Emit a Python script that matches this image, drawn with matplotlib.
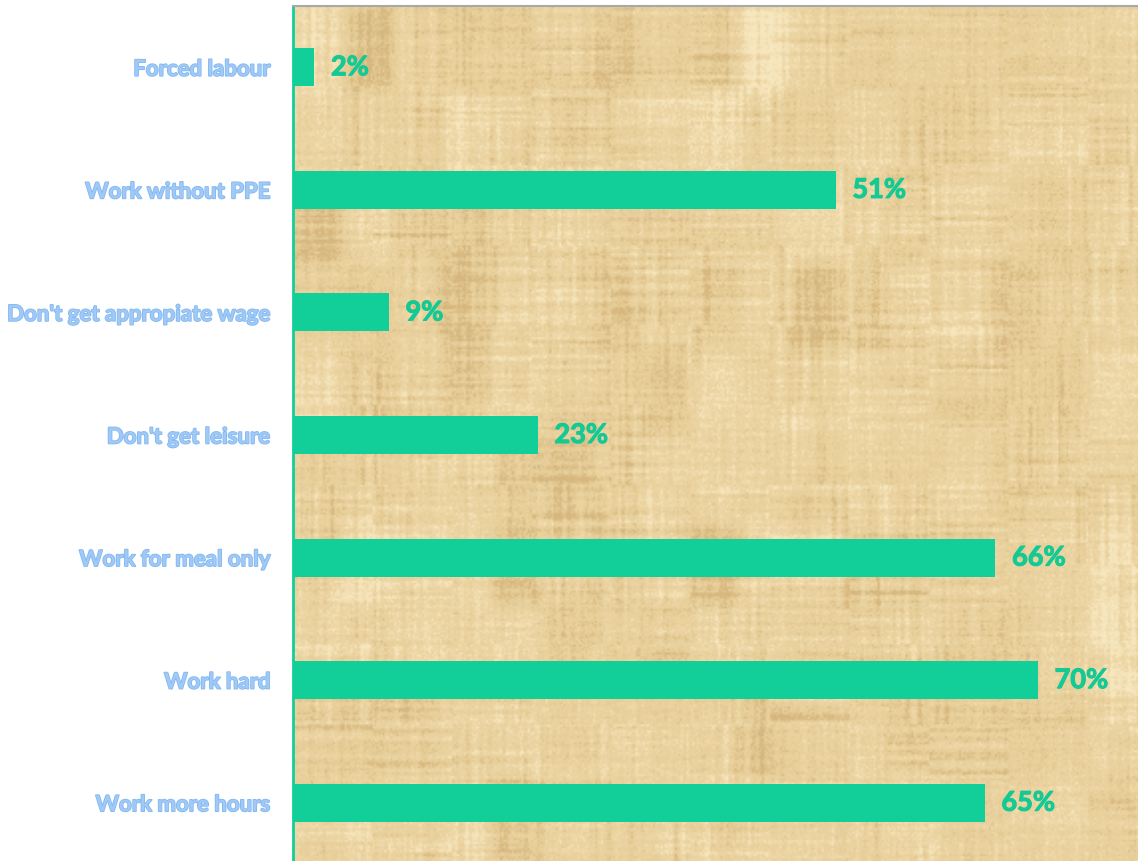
import numpy as np
import matplotlib
matplotlib.use("Agg")
import matplotlib.pyplot as plt
import matplotlib.patheffects as pe
from matplotlib.colors import LinearSegmentedColormap

# survey answers, top to bottom
categories = [
    "Forced labour",
    "Work without PPE",
    "Don't get appropiate wage",
    "Don't get leisure",
    "Work for meal only",
    "Work hard",
    "Work more hours",
]
shares = [2, 51, 9, 23, 66, 70, 65]

BAR_GREEN = "#12CF99"
LABEL_GREEN = "#14C994"
LABEL_BLUE = "#9FCAF7"
X_MAX = 79.4


def smooth(a, k, axis):
    kern = np.ones(k) / k
    return np.apply_along_axis(lambda v: np.convolve(v, kern, mode="same"), axis, a)


def papyrus(h=430, w=425, seed=3):
    # woven-fibre look: soft patches with horizontal and vertical strands
    rng = np.random.default_rng(seed)
    blocks = np.kron(rng.normal(size=(h // 43 + 1, w // 25 + 1)), np.ones((43, 25)))[:h, :w]
    blocks = smooth(smooth(blocks, 9, 0), 9, 1)
    amp_r = np.kron(rng.uniform(0.3, 1, size=(h // 30 + 1, w // 60 + 1)), np.ones((30, 60)))[:h, :w]
    amp_c = np.kron(rng.uniform(0.3, 1, size=(h // 60 + 1, w // 30 + 1)), np.ones((60, 30)))[:h, :w]
    rows = smooth(rng.normal(size=(h, w // 40 + 1)), 2, 0)
    rows = np.repeat(rows, 40, axis=1)[:, :w]
    cols = smooth(rng.normal(size=(h // 40 + 1, w)), 2, 1)
    cols = np.repeat(cols, 40, axis=0)[:h, :]
    fine = rng.normal(size=(h, w))
    tex = 0.35 * blocks + 0.5 * rows * amp_r + 0.5 * cols * amp_c + 0.3 * fine
    tex = (tex - tex.mean()) / tex.std()
    return np.clip(tex, -2.5, 2.5)


paper = LinearSegmentedColormap.from_list(
    "paper", ["#D6B77E", "#E6CD98", "#EDD6A5", "#F7E7BF"])

fig = plt.figure(figsize=(11.38, 8.62), dpi=100)
ax = fig.add_axes([293 / 1138, -3 / 862, 1 - 293 / 1138, 1 - 4 / 862])

y = np.arange(len(categories))
ax.imshow(papyrus(), cmap=paper, extent=[0, X_MAX, len(categories) - 0.5, -0.5],
          aspect="auto", interpolation="bilinear", zorder=0)
ax.barh(y, shares, height=0.31, color=BAR_GREEN, zorder=2)

for yi, v in zip(y, shares):
    ax.annotate(f"{v}%", (v, yi), xytext=(12, 0), textcoords="offset points",
                ha="left", va="center", fontsize=19.5, fontweight="bold",
                color=LABEL_GREEN, family="Lato", zorder=3,
                path_effects=[pe.withStroke(linewidth=0.8, foreground=LABEL_GREEN)])

ax.set_xlim(0, X_MAX)
ax.set_ylim(len(categories) - 0.5, -0.5)
ax.set_xticks([])
ax.set_yticks(y)
ax.set_yticklabels(categories, fontsize=16, fontweight="bold", family="Lato",
                   color=LABEL_BLUE)
for t in ax.get_yticklabels():
    t.set_path_effects([pe.withStroke(linewidth=1.2, foreground="#84B7EF")])
ax.tick_params(axis="y", length=0, pad=16)

for side in ["right", "bottom"]:
    ax.spines[side].set_visible(False)
ax.spines["left"].set_color(BAR_GREEN)
ax.spines["left"].set_linewidth(2)
ax.spines["top"].set_color("#A8A8A8")
ax.spines["top"].set_linewidth(1.5)

fig.savefig("out.png", dpi=100, facecolor="white")
